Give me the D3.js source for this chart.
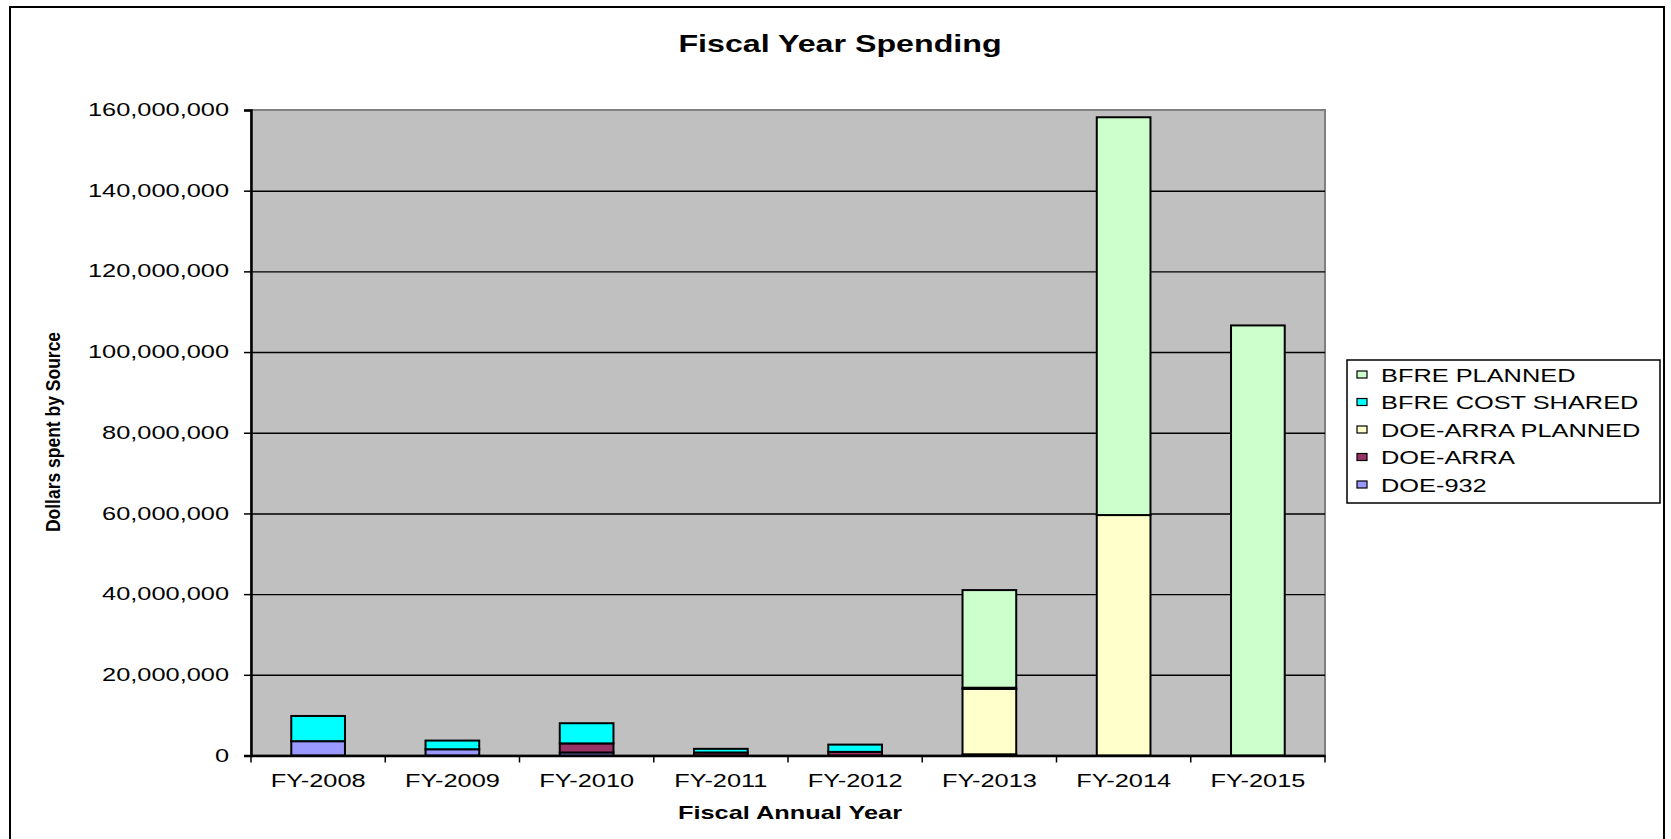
<!DOCTYPE html>
<html>
<head>
<meta charset="utf-8">
<script src="https://cdn.jsdelivr.net/npm/d3@7"></script>
<style>
  body { margin: 0; background: #fff; }
  text { font-family: "Liberation Sans", Arial, sans-serif; fill: #000; }
  .grid line { stroke: #000; stroke-width: 1.4; }
  .grid path { display: none; }
</style>
</head>
<body>
<svg width="1671" height="839"></svg>
<script>
// values, in dollars
const years = ['FY-2008', 'FY-2009', 'FY-2010', 'FY-2011', 'FY-2012', 'FY-2013', 'FY-2014', 'FY-2015'];
const doe932 = [3550000, 1550000, 750000, 0, 0, 0, 0, 0];
const doeArra = [0, 0, 2250000, 750000, 900000, 300000, 0, 0];
const doeArraPlanned = [0, 0, 0, 0, 0, 16200000, 59600000, 0];
const bfreCostShared = [6250000, 2150000, 5000000, 900000, 1800000, 300000, 0, 0];
const bfrePlanned = [0, 0, 0, 0, 0, 24200000, 98600000, 106600000];
const yTicks = [0, 20000000, 40000000, 60000000, 80000000, 100000000, 120000000, 140000000, 160000000];

// stack order, bottom first
const series = [
    {name: 'DOE-932', values: doe932, color: '#9999FF'},
    {name: 'DOE-ARRA', values: doeArra, color: '#993366'},
    {name: 'DOE-ARRA PLANNED', values: doeArraPlanned, color: '#FFFFCC'},
    {name: 'BFRE COST SHARED', values: bfreCostShared, color: '#00FFFF'},
    {name: 'BFRE PLANNED', values: bfrePlanned, color: '#CCFFCC'}
];

const SX = 1.45; // the original picture is stretched sideways

const svg = d3.select('svg');
const plot = {left: 251, right: 1325, top: 110, bottom: 755.5};

// outer frame
svg.append('rect')
.attr('x', 10).attr('y', 7)
.attr('width', 1654).attr('height', 860)
.attr('fill', '#fff').attr('stroke', '#000').attr('stroke-width', 2);

// title
svg.append('text')
.attr('transform', `translate(840, 52) scale(1.4, 1)`)
.attr('text-anchor', 'middle')
.attr('font-size', 23).attr('font-weight', 'bold')
.text('Fiscal Year Spending');

const xScale = d3.scaleBand()
.domain(years)
.range([plot.left, plot.right])
.padding(0);

const yScale = d3.scaleLinear()
.domain([0, 160000000])
.range([plot.bottom, plot.top]);

// plot area
svg.append('rect')
.attr('x', plot.left).attr('y', plot.top)
.attr('width', plot.right - plot.left).attr('height', plot.bottom - plot.top)
.attr('fill', '#C0C0C0').attr('stroke', '#808080').attr('stroke-width', 2);

// horizontal grid lines
svg.append('g')
.attr('class', 'grid')
.attr('transform', `translate(${plot.left}, 0)`)
.call(d3.axisLeft(yScale)
    .tickValues(yTicks.slice(1, -1))
    .tickSize(-(plot.right - plot.left))
    .tickFormat(''));

// stacked bars
const stack = d3.stack()
.keys(series.map((s) => s.name))
.value((d, key) => d[key]);
const rows = years.map((y, i) => {
    const r = {year: y};
    series.forEach((s) => { r[s.name] = s.values[i]; });
    return r;
});
const layers = stack(rows);
const barW = xScale.bandwidth() * 0.4;

svg.append('g').selectAll('g')
.data(layers)
.enter()
.append('g')
.attr('fill', (l, i) => series[i].color)
.selectAll('rect')
.data((l) => l.filter((d) => d[1] - d[0] > 0))
.enter()
.append('rect')
.attr('x', (d) => xScale(d.data.year) + (xScale.bandwidth() - barW) / 2)
.attr('y', (d) => yScale(d[1]))
.attr('width', barW)
.attr('height', (d) => yScale(d[0]) - yScale(d[1]))
.attr('stroke', '#000')
.attr('stroke-width', 2);

// y axis
const yAxis = svg.append('g')
.attr('transform', `translate(${plot.left}, 0)`)
.call(d3.axisLeft(yScale)
    .tickValues(yTicks)
    .tickSize(7)
    .tickFormat(d3.format(',')));
yAxis.select('.domain').attr('stroke', '#000').attr('stroke-width', 2.5);
yAxis.selectAll('.tick line').attr('stroke-width', 1.5);
yAxis.selectAll('text')
.attr('font-size', 17.5)
.attr('font-family', '"Liberation Sans", Arial, sans-serif')
.attr('x', -22 / SX)
.attr('transform', `scale(${SX}, 1)`);

// x axis labels
const xAxis = svg.append('g')
.attr('transform', `translate(0, ${plot.bottom})`)
.call(d3.axisBottom(xScale).tickSize(0).tickPadding(19));
xAxis.select('.domain').attr('stroke', '#000').attr('stroke-width', 2.5);
xAxis.selectAll('text')
.attr('font-size', 17.5)
.attr('font-family', '"Liberation Sans", Arial, sans-serif')
.attr('transform', `scale(${SX}, 1)`)
.attr('x', 0);
// category boundary ticks
const bounds = years.map((y) => xScale(y)).concat([xScale.range()[1]]);
xAxis.selectAll('.bound')
.data(bounds)
.enter()
.append('line')
.attr('class', 'bound')
.attr('x1', (b) => b).attr('x2', (b) => b)
.attr('y1', 0).attr('y2', 7)
.attr('stroke', '#000').attr('stroke-width', 1.5);

// axis titles
svg.append('text')
.attr('transform', `translate(${(plot.left + plot.right) / 2 + 2}, 819) scale(${SX}, 1)`)
.attr('text-anchor', 'middle')
.attr('font-size', 17.5).attr('font-weight', 'bold')
.text('Fiscal Annual Year');

svg.append('text')
.attr('transform', `translate(60, 432) scale(1.2, 1) rotate(-90)`)
.attr('text-anchor', 'middle')
.attr('font-size', 17.5).attr('font-weight', 'bold')
.text('Dollars spent by Source');

// legend, top entry is the top of the stack
const legend = svg.append('g');
legend.append('rect')
.attr('x', 1347).attr('y', 360)
.attr('width', 313).attr('height', 143)
.attr('fill', '#fff').attr('stroke', '#000').attr('stroke-width', 1.5);

const legendItems = series.slice().reverse();
const item = legend.selectAll('.item')
.data(legendItems)
.enter()
.append('g')
.attr('class', 'item')
.attr('transform', (d, i) => `translate(1357, ${375 + i * 27.5})`);

item.append('rect')
.attr('x', 0).attr('y', -4)
.attr('width', 10).attr('height', 7)
.attr('fill', (d) => d.color)
.attr('stroke', '#000').attr('stroke-width', 1.2);

item.append('text')
.attr('transform', `translate(24, 6.5) scale(${SX}, 1)`)
.attr('font-size', 17.5)
.text((d) => d.name);
</script>
</body>
</html>
